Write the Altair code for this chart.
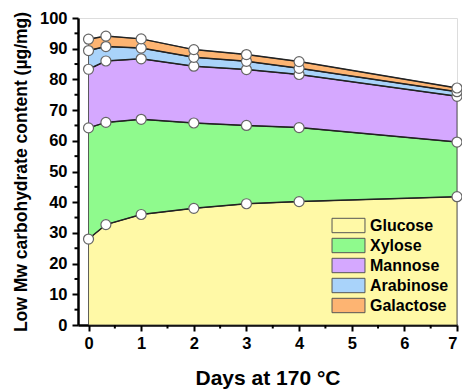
import altair as alt
import pandas as pd

days = [0, 0.33, 1, 2, 3, 4, 7]
sugars = ["Glucose", "Xylose", "Mannose", "Arabinose", "Galactose"]
colors = ["#FFF9A6", "#8FFA8D", "#D5A8FF", "#A9D3FA", "#FDB472"]
# cumulative (stacked) tops
glucose_top = [28.0, 32.7, 36.0, 38.0, 39.5, 40.2, 41.8]
xylose_top = [64.2, 66.0, 67.0, 65.8, 65.0, 64.3, 59.6]
mannose_top = [83.3, 86.0, 86.7, 84.3, 83.2, 81.6, 74.5]
arabinose_top = [89.4, 90.7, 90.2, 87.2, 85.9, 83.6, 76.0]
galactose_top = [93.1, 94.1, 93.2, 89.7, 88.1, 85.8, 77.2]
x_major = list(range(0, 8))
x_minor = [0.5, 1.5, 2.5, 3.5, 4.5, 5.5, 6.5]
y_major = list(range(0, 101, 10))
y_minor = list(range(5, 100, 10))

tops = [glucose_top, xylose_top, mannose_top, arabinose_top, galactose_top]
rows = []
for i, s in enumerate(sugars):
    for j, d in enumerate(days):
        bottom = 0 if i == 0 else tops[i - 1][j]
        rows.append({"day": d, "sugar": s, "order": i, "bottom": bottom, "top": tops[i][j]})
df = pd.DataFrame(rows)

font = "Liberation Sans"
xscale = alt.Scale(domain=[-0.2, 7], nice=False, zero=False)
yscale = alt.Scale(domain=[0, 100], nice=False)

xaxis = alt.Axis(values=x_major, title="Days at 170 °C", grid=False, labelOverlap=False,
                 domainColor="black", domainWidth=2.5, tickColor="black", tickWidth=2, tickSize=6,
                 labelFont=font, labelFontSize=16.5, labelFontWeight="bold", labelColor="black",
                 labelPadding=4, titleFont=font, titleFontSize=21, titleFontWeight="bold",
                 titleColor="black", titlePadding=16)
yaxis = alt.Axis(values=y_major, title="Low Mw carbohydrate content (µg/mg)",
                 grid=False, labelOverlap=False, domainColor="black", domainWidth=2.5,
                 tickColor="black", tickWidth=2, tickSize=6, labelFont=font, labelFontSize=16.5,
                 labelFontWeight="bold", labelColor="black", labelPadding=5, titleFont=font,
                 titleFontSize=17.5, titleFontWeight="bold", titleColor="black", titlePadding=9)

legend = alt.Legend(title=None, orient="none", legendX=262, legendY=199,
                    symbolType="M-2.06,-0.9 h4.12 v1.8 h-4.12 Z", symbolSize=256,
                    symbolStrokeColor="#555", symbolStrokeWidth=1, symbolOpacity=1,
                    labelFont=font, labelFontSize=16, labelFontWeight="bold", labelColor="black",
                    labelOffset=13, rowPadding=1, padding=0)

X = lambda f: alt.X(f, type="quantitative", scale=xscale, axis=xaxis)
Y = lambda f: alt.Y(f, type="quantitative", scale=yscale, axis=yaxis)

base = alt.Chart(df)
areas = base.mark_area(opacity=1, stroke="#333", strokeWidth=0.8).encode(
    x=X("day"),
    y=Y("bottom"),
    y2="top:Q",
    color=alt.Color("sugar:N", scale=alt.Scale(domain=sugars, range=colors), legend=legend),
    order="order:Q",
)
lines = base.mark_line(color="#222", strokeWidth=1.5).encode(
    x=X("day"), y=Y("top"), detail="sugar:N"
)
points = base.mark_point(filled=True, fill="white", stroke="#666", strokeWidth=1.2,
                         size=100, opacity=1).encode(x=X("day"), y=Y("top"))

minor_x = alt.Chart(pd.DataFrame({"mx": x_minor})).mark_rule(
    color="black", strokeWidth=2, clip=False
).encode(x=X("mx"), y=alt.value(307), y2=alt.value(310.5))
minor_y = alt.Chart(pd.DataFrame({"my": y_minor})).mark_rule(
    color="black", strokeWidth=2, clip=False
).encode(y=Y("my"), x=alt.value(-3.5), x2=alt.value(0))

chart = alt.layer(areas, lines, points, minor_x, minor_y).properties(
    width=379, height=307,
    autosize=alt.AutoSizeParams(type="none"),
    padding={"left": 78, "top": 18, "right": 5, "bottom": 66},
).configure_view(stroke=None).configure(background="white")

chart.save("out.html", embed_options={"renderer": "svg", "actions": False})
